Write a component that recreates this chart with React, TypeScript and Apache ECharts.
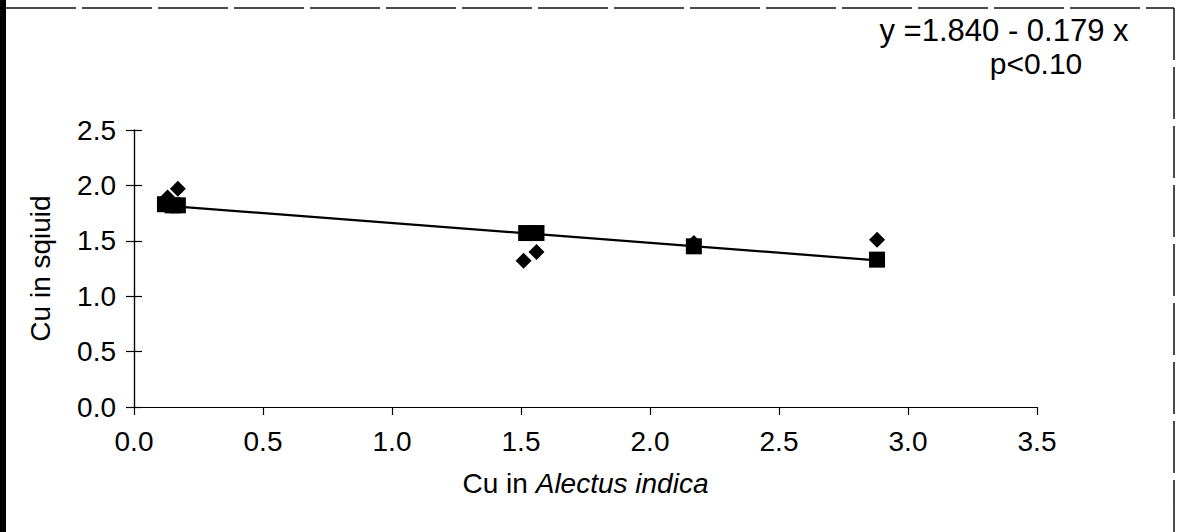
import React, { useEffect, useRef } from "react";
import * as echarts from "echarts";

// Regression-fitted values (squares)
const squareX = [0.12, 0.15, 0.17, 1.52, 1.56, 2.17, 2.88];
const squareY = [1.83, 1.82, 1.82, 1.57, 1.57, 1.45, 1.33];
// Observed values (diamonds)
const diamondX = [0.13, 0.17, 1.51, 1.56, 2.17, 2.88];
const diamondY = [1.89, 1.97, 1.32, 1.4, 1.48, 1.51];
// Regression line y = 1.840 - 0.179 x drawn between data extremes
const lineX = [0.12, 2.88];
const lineY = [1.818, 1.324];

const xTicks = [0, 0.5, 1, 1.5, 2, 2.5, 3, 3.5];
const yTicks = [0, 0.5, 1, 1.5, 2, 2.5];

const equationText = "y =1.840 - 0.179 x";
const pText = "p<0.10";
const xName = "Cu in {i|Alectus indica}";
const yName = "Cu in sqiuid";

const FONT = "'Liberation Sans', Arial, sans-serif";

export default function App() {
  const ref = useRef<HTMLDivElement>(null);
  useEffect(() => {
    if (!ref.current) return;
    const chart = echarts.init(ref.current, undefined, { renderer: "svg" });
    const gridPos = { left: 134, right: 146, top: 130, bottom: 125 };
    const tickStyle = { color: "#000", width: 1.2 };
    const xMin = xTicks[0];
    const xMax = xTicks[xTicks.length - 1];
    const yMin = yTicks[0];
    const yMax = yTicks[yTicks.length - 1];
    chart.setOption({
      animation: false,
      backgroundColor: "#fff",
      textStyle: { fontFamily: FONT },
      grid: [{ ...gridPos }, { ...gridPos }],
      xAxis: [
        {
          type: "value",
          gridIndex: 0,
          position: "bottom",
          min: xMin,
          max: xMax,
          interval: 0.5,
          splitLine: { show: false },
          axisLine: { show: true, lineStyle: tickStyle },
          axisTick: { show: true, length: 8, lineStyle: tickStyle },
          axisLabel: {
            margin: 20,
            fontSize: 28,
            color: "#000",
            fontFamily: FONT,
            formatter: (v: number) => v.toFixed(1),
          },
          name: xName,
          nameLocation: "middle",
          nameGap: 62,
          nameTextStyle: {
            fontSize: 28,
            color: "#000",
            fontFamily: FONT,
            rich: { i: { fontStyle: "italic", fontSize: 28, color: "#000", fontFamily: FONT } },
          },
        },
        {
          type: "value",
          gridIndex: 1,
          position: "bottom",
          min: xMin,
          max: xMax,
          interval: 0.5,
          splitLine: { show: false },
          axisLine: { show: false },
          axisTick: { show: false },
          axisLabel: { show: false },
        },
      ],
      yAxis: [
        {
          type: "value",
          gridIndex: 0,
          position: "left",
          min: yMin,
          max: yMax,
          interval: 0.5,
          splitLine: { show: false },
          axisLine: { show: true, lineStyle: tickStyle },
          axisTick: { show: true, length: 8, lineStyle: tickStyle },
          axisLabel: {
            margin: 18,
            fontSize: 28,
            color: "#000",
            fontFamily: FONT,
            formatter: (v: number) => v.toFixed(1),
          },
          name: yName,
          nameLocation: "middle",
          nameGap: 80,
          nameTextStyle: { fontSize: 28, color: "#000", fontFamily: FONT },
        },
        {
          type: "value",
          gridIndex: 1,
          position: "left",
          min: yMin,
          max: yMax,
          interval: 0.5,
          splitLine: { show: false },
          axisLine: { show: true, onZero: false, lineStyle: tickStyle },
          axisTick: { show: true, inside: true, length: 8, lineStyle: tickStyle },
          axisLabel: { show: false },
        },
      ],
      series: [
        {
          type: "line",
          xAxisIndex: 0,
          yAxisIndex: 0,
          data: lineX.map((x, i) => [x, lineY[i]]),
          symbol: "none",
          lineStyle: { color: "#000", width: 2.2 },
          z: 2,
        },
        {
          type: "scatter",
          xAxisIndex: 0,
          yAxisIndex: 0,
          data: diamondX.map((x, i) => [x, diamondY[i]]),
          symbol: "diamond",
          symbolSize: 16,
          itemStyle: { color: "#000", opacity: 1 },
          z: 3,
        },
        {
          type: "scatter",
          xAxisIndex: 0,
          yAxisIndex: 0,
          data: squareX.map((x, i) => [x, squareY[i]]),
          symbol: "rect",
          symbolSize: 16,
          itemStyle: { color: "#000", opacity: 1 },
          z: 4,
        },
      ],
      graphic: [
        {
          type: "rect",
          shape: { x: 0, y: 0, width: 6, height: 532 },
          style: { fill: "#000" },
          z: 10,
        },
        {
          type: "line",
          shape: { x1: 6, y1: 8, x2: 1174, y2: 8 },
          style: { stroke: "#111", lineWidth: 1.5, lineDash: [70, 6] },
        },
        {
          type: "line",
          shape: { x1: 1174, y1: 8, x2: 1174, y2: 532 },
          style: { stroke: "#111", lineWidth: 1.5, lineDash: [52, 7] },
        },
        {
          type: "text",
          x: 1004,
          y: 30,
          style: {
            text: equationText,
            fontSize: 31,
            fontFamily: FONT,
            fill: "#000",
            textAlign: "center",
            textVerticalAlign: "middle",
          },
        },
        {
          type: "text",
          x: 1036,
          y: 63,
          style: {
            text: pText,
            fontSize: 30,
            fontFamily: FONT,
            fill: "#000",
            textAlign: "center",
            textVerticalAlign: "middle",
          },
        },
      ],
    });
    return () => chart.dispose();
  }, []);
  return (
    <div
      ref={ref}
      style={{ position: "fixed", left: 0, top: 0, width: 1183, height: 532, background: "#fff" }}
    />
  );
}
